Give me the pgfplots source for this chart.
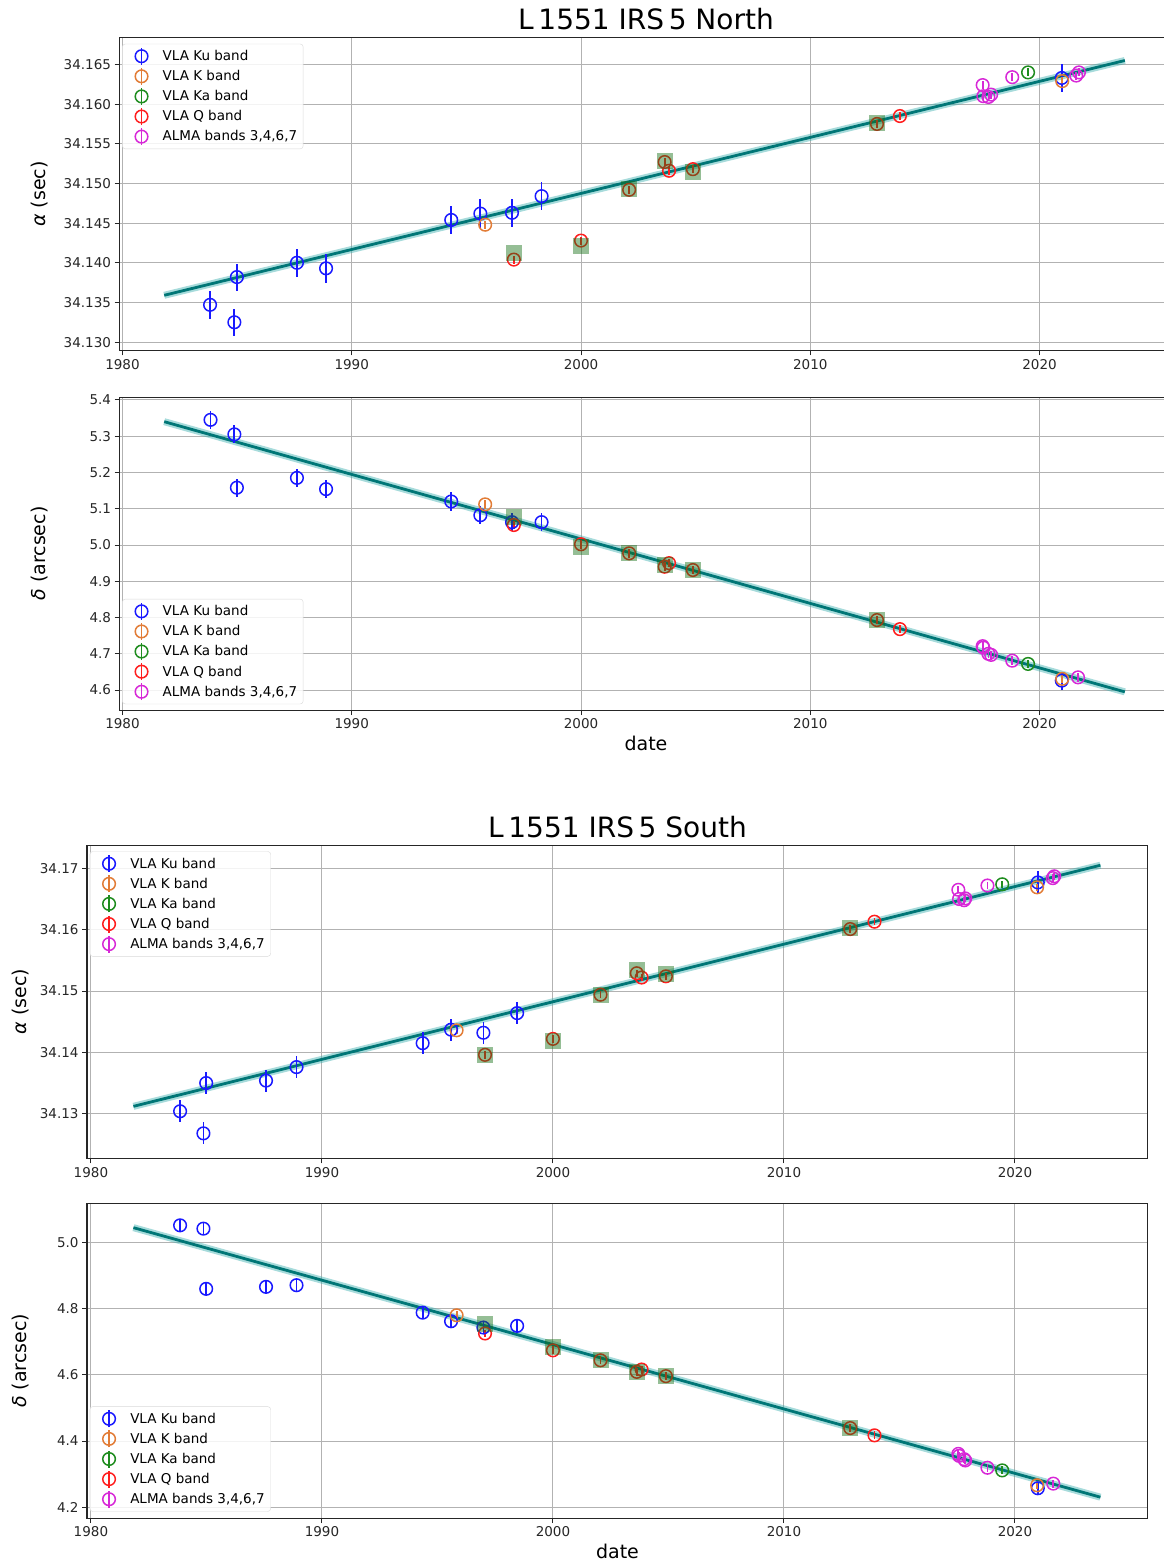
\documentclass[border=0pt]{standalone}
\usepackage{fontspec}
\setmainfont{DejaVu Sans}
\usepackage{pgfplots}
\pgfplotsset{compat=1.18}

\definecolor{kublue}{RGB}{25,25,255}
\definecolor{korange}{RGB}{226,124,54}
\definecolor{kagreen}{RGB}{30,140,30}
\definecolor{qred}{RGB}{255,30,30}
\definecolor{almamag}{RGB}{215,40,215}
\definecolor{sqgreen}{RGB}{20,110,20}
\definecolor{fitteal}{RGB}{0,118,118}
\definecolor{halo}{RGB}{60,175,175}

\pgfplotsset{
  panel/.style={
    scale only axis,
    axis line style={black!85, line width=1pt},
    grid=major, grid style={black!30, line width=0.9pt},
    tick align=outside, tick pos=left, major tick length=5pt,
    every tick/.style={black!85, line width=0.9pt},
    xtick={1980,1990,2000,2010,2020},
    xticklabel style={/pgf/number format/1000 sep={}},
    ticklabel style={font=\fontsize{13.5}{16}\selectfont, text=black!85},
    /pgf/number format/assume math mode=true,
    scaled y ticks=false,
    label style={font=\fontsize{19}{22}\selectfont},
    title style={font=\fontsize{28}{32}\selectfont, yshift=-2pt},
    legend cell align=left,
    legend style={anchor=north west, draw=black!15, rounded corners=3pt,
      fill=white, fill opacity=0.85, text opacity=1,
      font=\fontsize{13.5}{16}\selectfont, row sep=1.6pt,
      inner xsep=4pt, inner ysep=3pt},
  },
  ylab/.style={ylabel style={at={(axis description cs:#1,0.5)}, anchor=center}},
  meas/.style={only marks, mark=o, color=#1, mark size=6.3pt,
    mark options={line width=1.5pt, solid},
    legend image code/.code={
      \path (0pt,0pt) (34pt,0pt);
      \draw[#1, line width=1.5pt] (15pt,-8.5pt) -- (15pt,8.5pt);
      \draw[#1, line width=1.5pt] (15pt,0pt) circle[radius=6.3pt];},
    error bars/y dir=both, error bars/y explicit, error bars/error mark=none,
    error bars/error bar style={line width=1.8pt}},
  sq/.style={only marks, mark=square*, mark size=8pt, forget plot,
    color=sqgreen, mark options={draw opacity=0, fill=sqgreen, fill opacity=0.45}},
  band/.style={no marks, line width=7pt, color=halo, opacity=0.45, forget plot},
  fit/.style={no marks, line width=2.8pt, color=fitteal, forget plot},
}

\begin{document}
\begin{tikzpicture}
\useasboundingbox (0,0) rectangle (1163pt,-1566pt);

% ---------- North, right ascension ----------
\begin{axis}[panel, ylab=-0.0755, at={(119.5pt,-350.5pt)}, anchor=south west,
  width=1053pt, height=313pt,
  xmin=1979.87, xmax=2025.8, ymin=34.12894, ymax=34.1684,
  ytick={34.130,34.135,34.140,34.145,34.150,34.155,34.160,34.165},
  yticklabel style={/pgf/number format/.cd, fixed, fixed zerofill, precision=3},
  title={L\,1551 IRS\,5 North}, ylabel={{\itshape α} (sec)},
  legend style={at={(0.0025,0.98)}}]
\addplot[band] coordinates {(1981.82,34.1359) (2023.72,34.1655)};
\addplot[fit] coordinates {(1981.82,34.1359) (2023.72,34.1655)};
\addplot[meas=kublue] coordinates {
  (1983.82,34.1347) +- (0,0.0018) (1984.88,34.1325) +- (0,0.0017)
  (1984.99,34.1382) +- (0,0.0017) (1987.61,34.1400) +- (0,0.0018)
  (1988.88,34.1393) +- (0,0.0018) (1994.34,34.1454) +- (0,0.0018)
  (1995.61,34.1462) +- (0,0.0018) (1996.99,34.1463) +- (0,0.0018)
  (1998.28,34.1484) +- (0,0.0018) (2020.97,34.1633) +- (0,0.0018)};
\addplot[meas=korange] coordinates {
  (1995.82,34.1448) +- (0,0.0005) (2020.99,34.1629) +- (0,0.0005)};
\addplot[meas=kagreen] coordinates {(2019.50,34.1640) +- (0,0.0005)};
\addplot[meas=qred] coordinates {
  (1997.07,34.1404) +- (0,0.0005) (2000.00,34.1428) +- (0,0.0005)
  (2002.10,34.1492) +- (0,0.0005) (2003.65,34.1527) +- (0,0.0005)
  (2003.84,34.1516) +- (0,0.0005) (2004.88,34.1518) +- (0,0.0005)
  (2012.91,34.1575) +- (0,0.0005) (2013.91,34.1585) +- (0,0.0005)};
\addplot[meas=almamag] coordinates {
  (2017.52,34.1624) +- (0,0.0005) (2017.55,34.1610) +- (0,0.0005)
  (2017.77,34.1609) +- (0,0.0005) (2017.89,34.1612) +- (0,0.0005)
  (2018.81,34.1634) +- (0,0.0005) (2021.60,34.1636) +- (0,0.0005)
  (2021.72,34.1640) +- (0,0.0005)};
\addplot[sq] coordinates {(1997.07,34.1412) (2000.00,34.1421) (2002.10,34.1493)
  (2003.68,34.1528) (2004.88,34.1515) (2012.91,34.1576)};
\legend{VLA Ku band, VLA K band, VLA Ka band, VLA Q band, {ALMA bands 3,4,6,7}}
\end{axis}

% ---------- North, declination ----------
\begin{axis}[panel, ylab=-0.0755, at={(119.5pt,-710pt)}, anchor=south west,
  width=1053pt, height=313pt,
  xmin=1979.87, xmax=2025.8, ymin=4.545, ymax=5.408,
  ytick={4.6,4.7,4.8,4.9,5.0,5.1,5.2,5.3,5.4},
  yticklabel style={/pgf/number format/.cd, fixed, fixed zerofill, precision=1},
  xlabel={date}, ylabel={{\itshape δ} (arcsec)},
  legend style={at={(0.0025,0.355)}}]
\addplot[band] coordinates {(1981.82,5.340) (2023.72,4.595)};
\addplot[fit] coordinates {(1981.82,5.340) (2023.72,4.595)};
\addplot[meas=kublue] coordinates {
  (1983.84,5.345) +- (0,0.025) (1984.88,5.305) +- (0,0.025)
  (1984.99,5.158) +- (0,0.025) (1987.61,5.185) +- (0,0.025)
  (1988.88,5.154) +- (0,0.025) (1994.34,5.120) +- (0,0.025)
  (1995.61,5.082) +- (0,0.025) (1996.99,5.063) +- (0,0.025)
  (1998.28,5.063) +- (0,0.025) (2020.97,4.626) +- (0,0.025)};
\addplot[meas=korange] coordinates {
  (1995.82,5.112) +- (0,0.012) (2020.99,4.631) +- (0,0.012)};
\addplot[meas=kagreen] coordinates {(2019.50,4.672) +- (0,0.012)};
\addplot[meas=qred] coordinates {
  (1997.07,5.055) +- (0,0.012) (2000.00,5.002) +- (0,0.012)
  (2002.10,4.977) +- (0,0.012) (2003.65,4.940) +- (0,0.012)
  (2003.84,4.950) +- (0,0.012) (2004.88,4.931) +- (0,0.012)
  (2012.91,4.793) +- (0,0.012) (2013.91,4.768) +- (0,0.012)};
\addplot[meas=almamag] coordinates {
  (2017.52,4.721) +- (0,0.012) (2017.55,4.717) +- (0,0.012)
  (2017.77,4.700) +- (0,0.012) (2017.89,4.697) +- (0,0.012)
  (2018.81,4.681) +- (0,0.012) (2021.68,4.635) +- (0,0.012)};
\addplot[sq] coordinates {(1997.07,5.078) (2000.00,4.995) (2002.10,4.977)
  (2003.68,4.945) (2004.88,4.931) (2012.91,4.793)};
\legend{VLA Ku band, VLA K band, VLA Ka band, VLA Q band, {ALMA bands 3,4,6,7}}
\end{axis}

% ---------- South, right ascension ----------
\begin{axis}[panel, ylab=-0.0631, at={(87pt,-1158.5pt)}, anchor=south west,
  width=1061pt, height=313.5pt,
  xmin=1979.83, xmax=2025.76, ymin=34.1227, ymax=34.1738,
  ytick={34.13,34.14,34.15,34.16,34.17},
  yticklabel style={/pgf/number format/.cd, fixed, fixed zerofill, precision=2},
  title={L\,1551 IRS\,5 South}, ylabel={{\itshape α} (sec)},
  legend style={at={(0.0025,0.98)}}]
\addplot[band] coordinates {(1981.84,34.1312) (2023.70,34.1705)};
\addplot[fit] coordinates {(1981.84,34.1312) (2023.70,34.1705)};
\addplot[meas=kublue] coordinates {
  (1983.86,34.1304) +- (0,0.0018) (1984.87,34.1268) +- (0,0.0018)
  (1984.99,34.1350) +- (0,0.0018) (1987.58,34.1354) +- (0,0.0018)
  (1988.90,34.1376) +- (0,0.0018) (1994.36,34.1415) +- (0,0.0018)
  (1995.59,34.1437) +- (0,0.0018) (1996.99,34.1432) +- (0,0.0018)
  (1998.45,34.1464) +- (0,0.0018) (2020.99,34.1677) +- (0,0.0018)};
\addplot[meas=korange] coordinates {
  (1995.83,34.1436) +- (0,0.0006) (2020.96,34.1669) +- (0,0.0006)};
\addplot[meas=kagreen] coordinates {(2019.45,34.1674) +- (0,0.0006)};
\addplot[meas=qred] coordinates {
  (1997.06,34.1396) +- (0,0.0006) (2000.00,34.1422) +- (0,0.0006)
  (2002.06,34.1494) +- (0,0.0006) (2003.63,34.1529) +- (0,0.0006)
  (2003.84,34.1522) +- (0,0.0006) (2004.89,34.1524) +- (0,0.0006)
  (2012.87,34.1601) +- (0,0.0006) (2013.92,34.1613) +- (0,0.0006)};
\addplot[meas=almamag] coordinates {
  (2017.55,34.1665) +- (0,0.0006) (2017.58,34.1650) +- (0,0.0006)
  (2017.80,34.1648) +- (0,0.0006) (2017.85,34.1651) +- (0,0.0006)
  (2018.81,34.1672) +- (0,0.0006) (2021.64,34.1684) +- (0,0.0006)
  (2021.70,34.1687) +- (0,0.0006)};
\addplot[sq] coordinates {(1997.06,34.1395) (2000.00,34.1418) (2002.06,34.1494)
  (2003.66,34.1535) (2004.89,34.1527) (2012.87,34.1602)};
\legend{VLA Ku band, VLA K band, VLA Ka band, VLA Q band, {ALMA bands 3,4,6,7}}
\end{axis}

% ---------- South, declination ----------
\begin{axis}[panel, ylab=-0.0631, at={(87pt,-1518pt)}, anchor=south west,
  width=1061pt, height=314.5pt,
  xmin=1979.83, xmax=2025.76, ymin=4.167, ymax=5.118,
  ytick={4.2,4.4,4.6,4.8,5.0},
  yticklabel style={/pgf/number format/.cd, fixed, fixed zerofill, precision=1},
  xlabel={date}, ylabel={{\itshape δ} (arcsec)},
  legend style={at={(0.0025,0.355)}}]
\addplot[band] coordinates {(1981.84,5.045) (2023.70,4.230)};
\addplot[fit] coordinates {(1981.84,5.045) (2023.70,4.230)};
\addplot[meas=kublue] coordinates {
  (1983.86,5.052) +- (0,0.019) (1984.87,5.042) +- (0,0.019)
  (1984.99,4.860) +- (0,0.019) (1987.58,4.866) +- (0,0.019)
  (1988.90,4.871) +- (0,0.019) (1994.36,4.788) +- (0,0.019)
  (1995.59,4.762) +- (0,0.019) (1996.99,4.743) +- (0,0.019)
  (1998.45,4.748) +- (0,0.019) (2020.99,4.257) +- (0,0.019)};
\addplot[meas=korange] coordinates {
  (1995.83,4.780) +- (0,0.012) (2020.96,4.266) +- (0,0.012)};
\addplot[meas=kagreen] coordinates {(2019.45,4.311) +- (0,0.012)};
\addplot[meas=qred] coordinates {
  (1997.06,4.725) +- (0,0.012) (2000.00,4.674) +- (0,0.012)
  (2002.06,4.644) +- (0,0.012) (2003.63,4.609) +- (0,0.012)
  (2003.84,4.616) +- (0,0.012) (2004.89,4.596) +- (0,0.012)
  (2012.87,4.439) +- (0,0.012) (2013.92,4.417) +- (0,0.012)};
\addplot[meas=almamag] coordinates {
  (2017.55,4.361) +- (0,0.012) (2017.58,4.355) +- (0,0.012)
  (2017.80,4.345) +- (0,0.012) (2017.85,4.341) +- (0,0.012)
  (2018.81,4.319) +- (0,0.012) (2021.66,4.271) +- (0,0.012)};
\addplot[sq] coordinates {(1997.06,4.755) (2000.00,4.684) (2002.06,4.644)
  (2003.66,4.609) (2004.89,4.596) (2012.87,4.439)};
\legend{VLA Ku band, VLA K band, VLA Ka band, VLA Q band, {ALMA bands 3,4,6,7}}
\end{axis}
\end{tikzpicture}
\end{document}
